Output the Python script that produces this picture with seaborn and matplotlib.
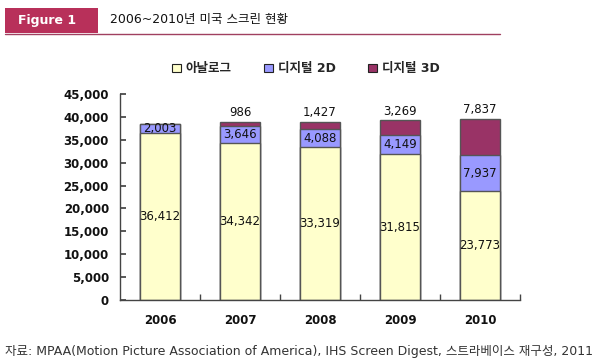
import matplotlib
matplotlib.use("Agg")
import matplotlib.pyplot as plt
import seaborn as sns
import pandas as pd
import numpy as np
from matplotlib.patches import Patch, Rectangle

sns.set_theme(style="white")
plt.rcParams['font.family'] = ['DejaVu Sans', 'Noto Sans CJK KR']

years = ["2006", "2007", "2008", "2009", "2010"]
analog = [36412, 34342, 33319, 31815, 23773]
digital_2d = [2003, 3646, 4088, 4149, 7937]
digital_3d = [0, 986, 1427, 3269, 7837]
series_names = ["아날로그", "디지털 2D", "디지털 3D"]
colors = ["#FFFFCC", "#9999FF", "#993366"]
yticks = [0, 5000, 10000, 15000, 20000, 25000, 30000, 35000, 40000, 45000]

df = pd.DataFrame({"year": years, "a": analog, "d2": digital_2d, "d3": digital_3d})
df["c2"] = df["a"] + df["d2"]
df["c3"] = df["c2"] + df["d3"]

fig = plt.figure(figsize=(6, 3.62), dpi=100)
ax = fig.add_axes([0.2, 0.1713, 0.6667, 0.569])

edge = "#555555"
for col, color in [("c3", colors[2]), ("c2", colors[1]), ("a", colors[0])]:
    sns.barplot(data=df, x="year", y=col, color=color, width=0.5,
                edgecolor=edge, linewidth=1.0, saturation=1, ax=ax, errorbar=None)

ax.set_xlim(-0.5, 4.5)
ax.set_ylim(0, 45000)
ax.set_yticks(yticks)
ax.set_yticklabels([f"{v:,}" for v in yticks], fontsize=8.5, fontweight="bold", color="#111111")
ax.set_xticks(range(len(years)))
ax.set_xticklabels(years, fontsize=8.5, fontweight="bold", color="#111111")
ax.set_xlabel("")
ax.set_ylabel("")
for s in ["top", "right"]:
    ax.spines[s].set_visible(False)
for s in ["left", "bottom"]:
    ax.spines[s].set_color("#444444")
    ax.spines[s].set_linewidth(1.0)
ax.tick_params(axis="y", which="major", direction="in", length=4, color="#444444", left=True, pad=8)
ax.tick_params(axis="x", which="major", length=0, pad=10)
# x category boundary ticks
ax.set_xticks(np.arange(0.5, 5.0, 1.0), minor=True)
ax.tick_params(axis="x", which="minor", direction="in", length=4, color="#444444", bottom=True)

# data labels
for i in range(len(years)):
    a, d2, d3 = analog[i], digital_2d[i], digital_3d[i]
    ax.text(i, a / 2, f"{a:,}", ha="center", va="center", fontsize=8.5, color="#111111")
    ax.text(i, a + d2 / 2, f"{d2:,}", ha="center", va="center", fontsize=8.5, color="#111111")
    if d3 > 0:
        ax.text(i, a + d2 + d3 + 600, f"{d3:,}", ha="center", va="bottom", fontsize=8.5, color="#111111")

# legend
handles = [Patch(facecolor=c, edgecolor="#222222", linewidth=0.8) for c in colors]
fig.legend(handles, series_names, loc="center", bbox_to_anchor=(0.51, 0.81), ncol=3,
           frameon=False, prop={"weight": "bold", "size": 9},
           handlelength=0.7, handleheight=0.7, handletextpad=0.4, columnspacing=2.6)

# header
fig.patches.append(Rectangle((5 / 600, 1 - 33 / 362), 93 / 600, 25 / 362,
                             transform=fig.transFigure, facecolor="#B8305A", edgecolor="none"))
fig.add_artist(plt.Line2D([5 / 600, 500 / 600], [1 - 33.5 / 362, 1 - 33.5 / 362],
                          transform=fig.transFigure, color="#A04060", linewidth=1.0))
fig.text(47 / 600, 1 - 20.5 / 362, "Figure 1", ha="center", va="center", color="white",
         fontsize=9, fontweight="bold")
fig.text(110 / 600, 1 - 20 / 362, "2006~2010년 미국 스크린 현황", ha="left", va="center",
         color="#111111", fontsize=9)

# source
fig.text(5 / 600, 1 - 352 / 362,
         "자료: MPAA(Motion Picture Association of America), IHS Screen Digest, 스트라베이스 재구성, 2011",
         ha="left", va="center", fontsize=9, color="#333333")

fig.savefig("out.png", dpi=100)
